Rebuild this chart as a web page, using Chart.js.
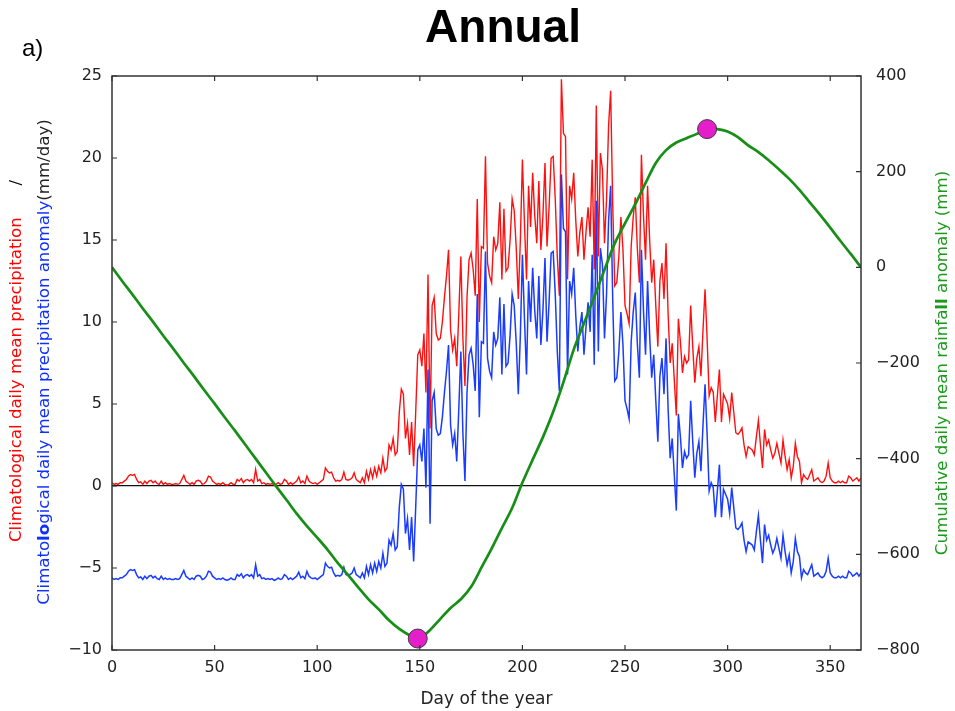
<!DOCTYPE html>
<html lang="en">
<head>
    <meta charset="UTF-8">
    <title>Annual</title>
    <script src="https://cdn.jsdelivr.net/npm/chart.js"></script>
    <style>
        body {
            margin: 0;
            background-color: #ffffff;
        }
        #wrap {
            position: relative;
            width: 955px;
            height: 711px;
        }
    </style>
</head>
<body>
    <div id="wrap"><canvas id="annualChart"></canvas></div>

    <script>
        // Daily mean precipitation (mm/day), day 0..365
        const precip = [
            0.2, 0.1, 0.15, 0.1, 0.2, 0.2, 0.3, 0.4, 0.6, 0.7,
            0.65, 0.7, 0.4, 0.2, 0.25, 0.1, 0.3, 0.15, 0.3, 0.35,
            0.2, 0.3, 0.15, 0.1, 0.3, 0.1, 0.2, 0.1, 0.15, 0.1,
            0.1, 0.15, 0.1, 0.15, 0.4, 0.65, 0.3, 0.2, 0.1, 0.2,
            0.1, 0.3, 0.35, 0.3, 0.1, 0.15, 0.3, 0.6, 0.55, 0.3,
            0.2, 0.1, 0.15, 0.1, 0.2, 0.1, 0.05, 0.1, 0.2, 0.1,
            0.1, 0.4, 0.3, 0.45, 0.2, 0.35, 0.4, 0.3, 0.4, 0.2,
            1.0, 0.3, 0.4, 0.15, 0.2, 0.1, 0.15, 0.1, 0.15, 0.05,
            0.1, 0.2, 0.1, 0.15, 0.4, 0.3, 0.1, 0.2, 0.1, 0.2,
            0.3, 0.55, 0.2, 0.3, 0.15, 0.6, 0.3, 0.2, 0.15, 0.2,
            0.1, 0.2, 0.3, 0.4, 1.1, 0.9, 0.8, 0.85, 0.5, 0.3,
            0.35, 0.3, 0.4, 0.85, 0.4, 0.35, 0.4, 0.5, 0.8, 0.4,
            0.3, 0.2, 0.5, 0.2, 0.9, 0.4, 1.0, 0.5, 1.1, 0.6,
            1.2, 0.8, 1.7, 0.9, 1.1, 2.5, 2.2, 2.9, 1.9, 2.1,
            4.5, 5.9, 5.6, 2.9, 3.8, 1.9, 3.9, 1.2, 4.5, 8.0,
            8.3, 7.3, 9.3, 5.7, 12.9, 3.5, 11.0, 11.5, 9.3, 8.9,
            9.0, 10.0, 11.5, 12.8, 14.4, 9.5, 8.3, 9.0, 7.3, 10.5,
            14.0, 9.0, 6.1, 11.5, 13.8, 14.2, 13.2, 11.6, 17.5, 10.0,
            14.6, 14.5, 20.1, 13.6, 12.8, 12.4, 15.2, 14.4, 14.8, 17.3,
            12.6, 16.9, 13.1, 13.3, 15.0, 17.5, 16.8, 14.5, 11.4, 15.0,
            19.9, 16.0, 12.6, 18.3, 15.8, 19.1, 16.5, 14.8, 18.6, 14.4,
            16.5, 19.7, 14.6, 17.0, 20.0, 20.1, 17.5, 14.0, 11.6, 24.8,
            21.5, 21.3, 12.6, 18.3, 17.5, 19.1, 16.2, 14.0, 15.5, 16.4,
            13.8, 15.5, 17.0, 15.2, 19.9, 13.2, 23.2, 14.0, 20.3, 19.3,
            14.8, 17.5, 22.0, 24.1, 17.2, 12.2, 12.4, 14.0, 16.4, 14.4,
            11.0, 10.5, 9.9, 14.6, 16.4, 17.6, 14.5, 12.4, 20.2, 16.5,
            13.8, 18.3, 15.0, 12.4, 13.8, 11.0, 8.5, 12.5, 13.6, 11.4,
            14.8, 10.5, 7.5, 8.7, 6.5, 4.3, 10.2, 8.8, 6.9, 7.9,
            7.5, 7.7, 11.0, 8.5, 6.3, 7.8, 8.5, 6.7, 9.5, 12.0,
            9.0, 5.5, 6.0, 5.7, 3.9, 5.5, 7.1, 3.9, 5.6, 5.3,
            5.0, 4.1, 5.7, 4.5, 3.25, 3.15, 3.3, 3.55, 2.5, 1.8,
            2.4, 2.3, 2.2, 1.9, 3.0, 4.0, 2.5, 1.1, 3.45, 2.5,
            2.8, 2.2, 1.7, 2.0, 2.6, 2.0, 1.4, 2.8, 1.8, 1.0,
            1.6, 0.5, 1.2, 2.6, 1.8, 1.5, 0.2, 0.7, 0.5, 0.4,
            0.7, 1.0, 0.3, 0.4, 0.5, 0.3, 0.2, 0.3, 0.6, 1.4,
            0.5, 0.3, 0.2, 0.2, 0.3, 0.2, 0.3, 0.2, 0.2, 0.6,
            0.5, 0.3, 0.4, 0.5, 0.3, 0.5
        ];

        // Daily mean precipitation anomaly (mm/day), day 0..365
        const anomaly = [
            -5.6, -5.7, -5.65, -5.7, -5.6, -5.6, -5.5, -5.4, -5.2, -5.1,
            -5.15, -5.1, -5.4, -5.6, -5.55, -5.7, -5.5, -5.65, -5.5, -5.45,
            -5.6, -5.5, -5.65, -5.7, -5.5, -5.7, -5.6, -5.7, -5.65, -5.7,
            -5.7, -5.65, -5.7, -5.65, -5.4, -5.15, -5.5, -5.6, -5.7, -5.6,
            -5.7, -5.5, -5.45, -5.5, -5.7, -5.65, -5.5, -5.2, -5.25, -5.5,
            -5.6, -5.7, -5.65, -5.7, -5.6, -5.7, -5.75, -5.7, -5.6, -5.7,
            -5.7, -5.4, -5.5, -5.35, -5.6, -5.45, -5.4, -5.5, -5.4, -5.6,
            -4.8, -5.5, -5.4, -5.65, -5.6, -5.7, -5.65, -5.7, -5.65, -5.75,
            -5.7, -5.6, -5.7, -5.65, -5.4, -5.5, -5.7, -5.6, -5.7, -5.6,
            -5.5, -5.25, -5.6, -5.5, -5.65, -5.2, -5.5, -5.6, -5.65, -5.6,
            -5.7, -5.6, -5.5, -5.4, -4.7, -4.9, -5.0, -4.95, -5.3, -5.5,
            -5.45, -5.5, -5.4, -4.95, -5.4, -5.45, -5.4, -5.3, -5.0, -5.4,
            -5.5, -5.6, -5.3, -5.6, -4.9, -5.4, -4.8, -5.3, -4.7, -5.2,
            -4.6, -5.0, -4.1, -4.9, -4.7, -3.3, -3.6, -2.9, -3.9, -3.7,
            -1.3, 0.1, -0.2, -2.9, -2.0, -3.9, -1.9, -4.6, -1.3, 2.2,
            2.5, 1.5, 3.5, -0.1, 7.1, -2.3, 5.2, 5.7, 3.5, 3.1,
            3.2, 4.2, 5.7, 7.0, 8.6, 3.7, 2.5, 3.2, 1.5, 4.7,
            8.2, 3.2, 0.3, 5.7, 8.0, 8.4, 7.4, 5.8, 11.7, 4.2,
            8.8, 8.7, 14.3, 7.8, 7.0, 6.6, 9.4, 8.6, 9.0, 11.5,
            6.8, 11.1, 7.3, 7.5, 9.2, 11.7, 11.0, 8.7, 5.6, 9.2,
            14.1, 10.2, 6.8, 12.5, 10.0, 13.3, 10.7, 9.0, 12.8, 8.6,
            10.7, 13.9, 8.8, 11.2, 14.2, 14.3, 11.7, 8.2, 5.8, 19.0,
            15.7, 15.5, 6.8, 12.5, 11.7, 13.3, 10.4, 8.2, 9.7, 10.6,
            8.0, 9.7, 11.2, 9.4, 14.1, 7.4, 17.4, 8.2, 14.5, 13.5,
            9.0, 11.7, 16.2, 18.3, 11.4, 6.4, 6.6, 8.2, 10.6, 8.6,
            5.2, 4.7, 4.1, 8.8, 10.6, 11.8, 8.7, 6.6, 14.4, 10.7,
            8.0, 12.5, 9.2, 6.6, 8.0, 5.2, 2.7, 6.7, 7.8, 5.6,
            9.0, 4.7, 1.7, 2.9, 0.7, -1.5, 4.4, 3.0, 1.1, 2.1,
            1.7, 1.9, 5.2, 2.7, 0.5, 2.0, 2.7, 0.9, 3.7, 6.2,
            3.2, -0.3, 0.2, -0.1, -1.9, -0.3, 1.3, -1.9, -0.2, -0.5,
            -0.8, -1.7, -0.1, -1.3, -2.55, -2.65, -2.5, -2.25, -3.3, -4.0,
            -3.4, -3.5, -3.6, -3.9, -2.8, -1.8, -3.3, -4.7, -2.35, -3.3,
            -3.0, -3.6, -4.1, -3.8, -3.2, -3.8, -4.4, -3.0, -4.0, -4.8,
            -4.2, -5.3, -4.6, -3.2, -4.0, -4.3, -5.6, -5.1, -5.3, -5.4,
            -5.1, -4.8, -5.5, -5.4, -5.3, -5.5, -5.6, -5.5, -5.2, -4.4,
            -5.3, -5.5, -5.6, -5.6, -5.5, -5.6, -5.5, -5.6, -5.6, -5.2,
            -5.3, -5.5, -5.4, -5.3, -5.5, -5.3
        ];

        // Cumulative rainfall anomaly (mm), read every 5 days
        const cumDays = [
            0, 5, 10, 15, 20, 25, 30, 35, 40, 45, 50, 55, 60, 65, 70, 75, 80, 85, 90, 95,
            100, 105, 110, 115, 120, 125, 130, 135, 140, 145, 150, 155, 160, 165, 170, 175, 180, 185, 190, 195,
            200, 205, 210, 215, 220, 225, 230, 235, 240, 245, 250, 255, 260, 265, 270, 275, 280, 285, 290, 295,
            300, 305, 310, 315, 320, 325, 330, 335, 340, 345, 350, 355, 360, 365
        ];
        const cumAnomaly = [
            0, -29, -57, -86, -114, -143, -171, -200, -228, -257, -285, -314, -342, -371, -400, -429, -458, -486, -515, -541,
            -565, -590, -618, -643, -669, -694, -715, -738, -756, -769, -775, -758, -735, -712, -694, -668, -628, -588, -545, -503,
            -450, -402, -355, -302, -240, -172, -117, -62, -5, 50, 92, 132, 176, 218, 245, 261, 270, 279, 289, 289,
            284, 272, 255, 241, 224, 205, 185, 162, 136, 110, 83, 55, 28, 0
        ];

        // Minimum and maximum of the cumulative curve
        const extremaDays = [149, 290];
        const extremaValues = [-776, 289];

        const leftTicks = [-10, -5, 0, 5, 10, 15, 20, 25];
        const rightTicks = [-800, -600, -400, -200, 0, 200, 400];

        const days = precip.map((v, i) => i);
        const minus = v => String(v).replace('-', '\u2212');
        const FONT = '"DejaVu Sans", sans-serif';

        function drawSegments(ctx, segs, cx, cy) {
            ctx.save();
            ctx.translate(cx, cy);
            ctx.rotate(-Math.PI / 2);
            ctx.textBaseline = 'middle';
            ctx.textAlign = 'left';
            let total = 0;
            segs.forEach(s => { ctx.font = s.font; s.w = ctx.measureText(s.text).width; total += s.w; });
            let x = -total / 2;
            segs.forEach(s => {
                ctx.font = s.font;
                ctx.fillStyle = s.color;
                ctx.fillText(s.text, x, 0);
                x += s.w;
            });
            ctx.restore();
        }

        // frame, inward ticks and text that Chart.js can't colour per word
        const decorations = {
            id: 'decorations',
            afterDraw(chart) {
                const ctx = chart.ctx;
                const a = chart.chartArea;
                const xs = chart.scales.x, yl = chart.scales.y, yr = chart.scales.y2;
                ctx.save();
                ctx.strokeStyle = '#333';
                ctx.lineWidth = 1.2;
                ctx.beginPath();
                xs.ticks.forEach(t => {
                    const px = xs.getPixelForValue(t.value);
                    ctx.moveTo(px, a.bottom); ctx.lineTo(px, a.bottom - 5);
                    ctx.moveTo(px, a.top); ctx.lineTo(px, a.top + 5);
                });
                yl.ticks.forEach(t => {
                    const py = yl.getPixelForValue(t.value);
                    ctx.moveTo(a.left, py); ctx.lineTo(a.left + 5, py);
                });
                yr.ticks.forEach(t => {
                    const py = yr.getPixelForValue(t.value);
                    ctx.moveTo(a.right, py); ctx.lineTo(a.right - 5, py);
                });
                ctx.stroke();
                ctx.lineWidth = 1.5;
                ctx.strokeRect(a.left, a.top, a.right - a.left, a.bottom - a.top);

                ctx.fillStyle = '#000';
                ctx.textAlign = 'center';
                ctx.textBaseline = 'middle';
                ctx.font = 'bold 46px "Liberation Sans", Arial, sans-serif';
                ctx.fillText('Annual', 503, 29);
                ctx.textAlign = 'left';
                ctx.textBaseline = 'alphabetic';
                ctx.font = '24px "Liberation Sans", Arial, sans-serif';
                ctx.fillText('a)', 22, 56);
                ctx.restore();

                const f = '16.6px ' + FONT, fb = 'bold 16.6px ' + FONT;
                drawSegments(ctx, [
                    { text: 'Climatological daily mean precipitation', font: f, color: '#ff0000' },
                    { text: '      /', font: f, color: '#000' }
                ], 17, 361);
                drawSegments(ctx, [
                    { text: 'Climato', font: f, color: '#1030ff' },
                    { text: 'lo', font: fb, color: '#1030ff' },
                    { text: 'gical daily mean precipitation anomaly', font: f, color: '#1030ff' },
                    { text: '(mm/day)', font: f, color: '#222' }
                ], 45, 362);
                drawSegments(ctx, [
                    { text: 'Cumulative daily mean rainfa', font: f, color: '#1a9a1a' },
                    { text: 'll', font: fb, color: '#1a9a1a' },
                    { text: ' anomaly (mm)', font: f, color: '#1a9a1a' }
                ], 943, 363);
            }
        };

        const ctx = document.getElementById('annualChart').getContext('2d');
        const annualChart = new Chart(ctx, {
            type: 'line',
            data: {
                datasets: [{
                    label: 'Extrema',
                    type: 'scatter',
                    data: extremaDays.map((d, i) => ({ x: d, y: extremaValues[i] })),
                    yAxisID: 'y2',
                    backgroundColor: '#e41ecb',
                    borderColor: '#3a3a3a',
                    borderWidth: 1,
                    pointRadius: 9.5,
                    order: 0
                }, {
                    label: 'Cumulative anomaly',
                    data: cumDays.map((d, i) => ({ x: d, y: cumAnomaly[i] })),
                    yAxisID: 'y2',
                    borderColor: '#178f17',
                    borderWidth: 2.7,
                    pointRadius: 0,
                    tension: 0.3,
                    order: 1
                }, {
                    label: 'Anomaly',
                    data: days.map(d => ({ x: d, y: anomaly[d] })),
                    yAxisID: 'y',
                    borderColor: '#1a3cff',
                    borderWidth: 1.5,
                    pointRadius: 0,
                    order: 2
                }, {
                    label: 'Precipitation',
                    data: days.map(d => ({ x: d, y: precip[d] })),
                    yAxisID: 'y',
                    borderColor: '#ff1010',
                    borderWidth: 1.4,
                    pointRadius: 0,
                    order: 3
                }]
            },
            options: {
                responsive: true,
                maintainAspectRatio: false,
                animation: false,
                layout: { padding: { top: 76, left: 0, right: 0, bottom: 0 } },
                plugins: {
                    legend: { display: false },
                    tooltip: { enabled: false }
                },
                scales: {
                    x: {
                        type: 'linear',
                        min: 0,
                        max: 365,
                        afterFit: s => { s.height = 61; },
                        grid: { display: false, drawTicks: false },
                        border: { display: false },
                        ticks: {
                            stepSize: 50,
                            includeBounds: false,
                            padding: 8,
                            color: '#222',
                            font: { family: FONT, size: 16 }
                        },
                        title: {
                            display: true,
                            text: 'Day of the year',
                            color: '#222',
                            font: { family: FONT, size: 17 },
                            padding: { top: 0, bottom: 1 }
                        }
                    },
                    y: {
                        position: 'left',
                        min: -10,
                        max: 25,
                        afterFit: s => { s.width = 112; },
                        afterBuildTicks: s => { s.ticks = leftTicks.map(v => ({ value: v })); },
                        grid: {
                            drawTicks: false,
                            lineWidth: 1.2,
                            color: c => (c.tick && c.tick.value === 0) ? '#111' : 'rgba(0,0,0,0)'
                        },
                        border: { display: false },
                        ticks: {
                            padding: 10,
                            color: '#222',
                            font: { family: FONT, size: 16 },
                            callback: v => minus(v)
                        }
                    },
                    y2: {
                        position: 'right',
                        min: -800,
                        max: 400,
                        afterFit: s => { s.width = 94; },
                        afterBuildTicks: s => { s.ticks = rightTicks.map(v => ({ value: v })); },
                        grid: { display: false, drawTicks: false },
                        border: { display: false },
                        ticks: {
                            padding: 15,
                            color: '#222',
                            font: { family: FONT, size: 16 },
                            callback: v => minus(v)
                        }
                    }
                }
            },
            plugins: [decorations]
        });
    </script>
</body>
</html>
